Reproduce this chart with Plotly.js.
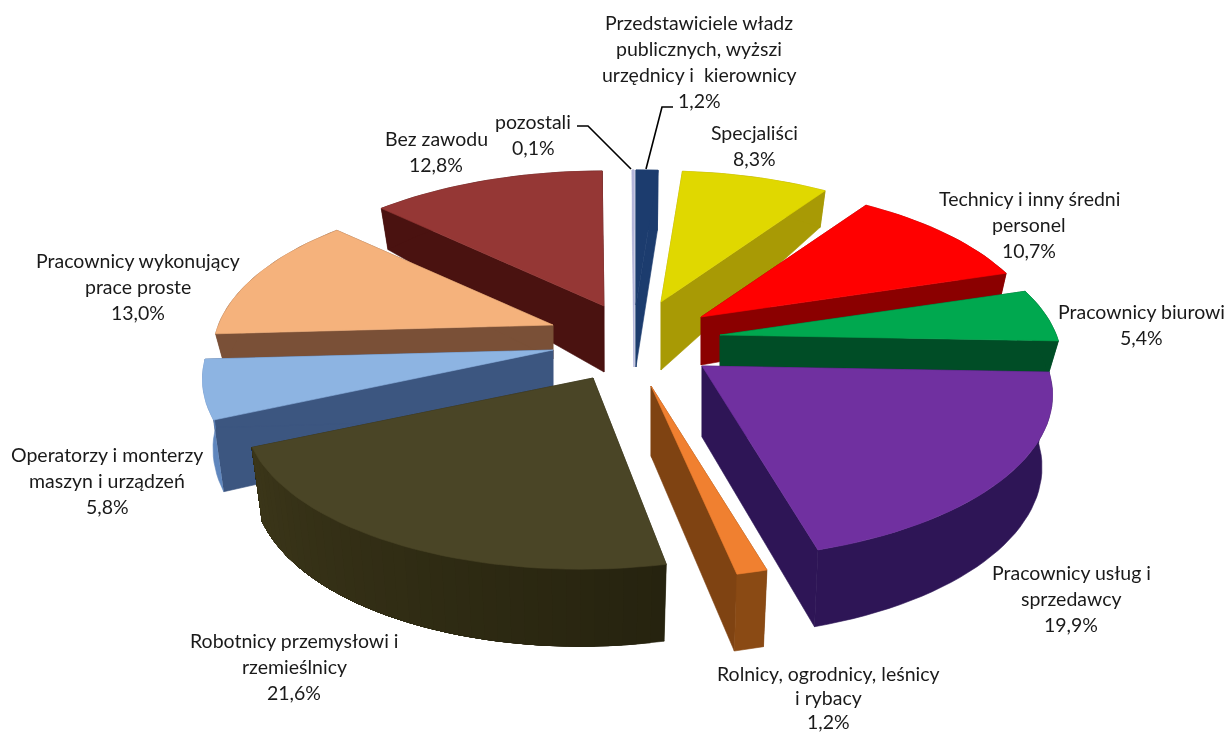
<!DOCTYPE html>
<html>
<head>
<meta charset="utf-8">
<script src="https://cdn.plot.ly/plotly-3.0.0.min.js"></script>
<style>html,body{margin:0;padding:0;background:#fff}#chart{width:1229px;height:735px;filter:blur(0.4px)}</style>
</head>
<body>
<div id="chart"></div>
<script>
// ---- data (clockwise from the top of the pie) ----
const categories = ["Przedstawiciele władz publicznych, wyżsi urzędnicy i kierownicy","Specjaliści","Technicy i inny średni personel","Pracownicy biurowi","Pracownicy usług i sprzedawcy","Rolnicy, ogrodnicy, leśnicy i rybacy","Robotnicy przemysłowi i rzemieślnicy","Operatorzy i monterzy maszyn i urządzeń","Pracownicy wykonujący prace proste","Bez zawodu","pozostali"];
const values = [1.2, 8.3, 10.7, 5.4, 19.9, 1.2, 21.6, 5.8, 13.0, 12.8, 0.1];
const labelLines = [
  ["Przedstawiciele władz","publicznych, wyższi","urzędnicy i  kierownicy","1,2%"],
  ["Specjaliści","8,3%"],
  ["Technicy i inny średni","personel","10,7%"],
  ["Pracownicy biurowi","5,4%"],
  ["Pracownicy usług i","sprzedawcy","19,9%"],
  ["Rolnicy, ogrodnicy, leśnicy","i rybacy","1,2%"],
  ["Robotnicy przemysłowi i","rzemieślnicy","21,6%"],
  ["Operatorzy i monterzy","maszyn i urządzeń","5,8%"],
  ["Pracownicy wykonujący","prace proste","13,0%"],
  ["Bez zawodu","12,8%"],
  ["pozostali","0,1%"]
];
// ---- styles and placement ----
const topColors  = ["#1c3c6e","#e0d800","#ff0000","#00a84f","#7030a0","#f08030","#4a4526","#8db4e2","#f5b27c","#953735","#b4b6da"];
const wallColors = ["#1c3c6e","#a89a05","#8b0000","#004d26","#2e1556","#7f4312","#2c2913","#3c5680","#7a5037","#4a1210","#b4b6da"];
const arcColorsA = ["#1c3c6e","#a89a05","#8b0000","#004d26","#2e1556","#8a4a14","#3b3619","#5f86bd","#7a5037","#4a1210","#b4b6da"];
const arcColorsB = ["#1c3c6e","#a89a05","#8b0000","#004d26","#2e1556","#8a4a14","#26230f","#5f86bd","#7a5037","#4a1210","#b4b6da"];
const apexX  = [636,661,701,720,702,651,593,553,553,604,634];
const apexY  = [305,302,317,335,366,386,378,350,325,306,305];
const scales = [1,.97,.975,.975,1,1,.99,1,.97,1,1];
const skews  = [0,0,0,0,0,0,12,0,0,0,0];
const depthC = [62,68,48,32,71,70,72,68,34,66,62];
const depthB = [60,30,20,24,30,30,30,30,20,30,60];
const drawOrder = [9,10,0,1,2,8,3,7,4,6,5];
const labelX  = [699,754,1029,1141,1071,828,294,107,138,436,533];
const labelY  = [22,132,198,311,572,673,640,454,260,138,121];
const lineSteps = [26.2,26.2,26.2,26.2,26.2,24,26.2,26.2,26.2,26.2,26.2];
const labelFont = {family:"Lato, 'Open Sans', sans-serif", size:19.5, color:"#1a1a1a"};
const Sx = 345, Sy = 159, P = 0.177, bottomShrink = 0.97;

// Projects a point of the unit pie onto the page
function rim(i, deg) {
  const a = deg*Math.PI/180, u = Math.sin(a), v = Math.cos(a), w = 1 + P*v, s = scales[i];
  const dx = s*Sx*u/w + skews[i]*v, dy = s*Sy*v/w;
  const d = v >= 0 ? depthC[i] - (depthC[i]-depthB[i])*v : depthC[i] + (77-depthC[i])*(-v);
  return {x: apexX[i]+dx, y: apexY[i]-dy, bx: apexX[i]+dx*bottomShrink, by: apexY[i]-dy+d};
}
function poly(xs, ys, color) {
  return {type:"scatter", mode:"lines", x:xs, y:ys, fill:"toself", fillcolor:color,
          line:{color:color, width:0.6}, hoverinfo:"skip", showlegend:false};
}
function mix(c1, c2, t) {
  const p = c => [1,3,5].map(k => parseInt(c.substr(k,2),16));
  const a = p(c1), b = p(c2);
  return "rgb(" + a.map((x,k) => Math.round(x+(b[k]-x)*t)).join(",") + ")";
}
const total = values.reduce((a,b)=>a+b,0);
let acc = 0;
const spans = values.map(v => { const s = [acc/total*360, (acc+v)/total*360]; acc += v; return s; });

const traces = [];
drawOrder.forEach(i => {
  const [a0,a1] = spans[i], n = Math.max(4, Math.ceil((a1-a0)/2));
  const pts = [];
  for (let k=0;k<=n;k++) pts.push(rim(i, a0+(a1-a0)*k/n));
  const ax = apexX[i], ay = apexY[i], ab = ay+depthC[i], wc = wallColors[i];
  // radial walls
  traces.push(poly([ax,pts[0].x,pts[0].bx,ax,ax],[ay,pts[0].y,pts[0].by,ab,ay],wc));
  traces.push(poly([ax,pts[n].x,pts[n].bx,ax,ax],[ay,pts[n].y,pts[n].by,ab,ay],wc));
  // outer wall: each band overlaps the rest of the rim, so no seams appear
  const bands = arcColorsA[i] === arcColorsB[i] ? 1 : n;
  for (let b=0;b<bands;b++) {
    const rest = pts.slice(Math.floor(b*n/bands));
    traces.push(poly(rest.map(p=>p.x).concat(rest.map(p=>p.bx).reverse()),
                     rest.map(p=>p.y).concat(rest.map(p=>p.by).reverse()),
                     mix(arcColorsB[i], arcColorsA[i], (b+0.5)/bands)));
  }
  // top face
  traces.push(poly([ax].concat(pts.map(p=>p.x),[ax]), [ay].concat(pts.map(p=>p.y),[ay]), topColors[i]));
});

const annotations = [];
labelLines.forEach((lines,i) => lines.forEach((t,j) => annotations.push({
  x:labelX[i], y:labelY[i]+j*lineSteps[i], xref:"x", yref:"y", text:t, showarrow:false,
  xanchor:"center", yanchor:"middle", font:labelFont
})));
const leaderPaths = ["M577,126 L588,126 L631,169","M673,107 L662,107 L646,169"];
const layout = {
  width:1229, height:735, margin:{l:0,r:0,t:0,b:0},
  paper_bgcolor:"#fff", plot_bgcolor:"#fff", showlegend:false,
  xaxis:{range:[0,1229], visible:false, fixedrange:true},
  yaxis:{range:[735,0], visible:false, fixedrange:true},
  annotations,
  shapes: leaderPaths.map(p => ({type:"path", path:p, xref:"x", yref:"y", line:{color:"#000", width:1.6}}))
};
Plotly.newPlot("chart", traces, layout, {displayModeBar:false, staticPlot:true});
</script>
</body>
</html>
